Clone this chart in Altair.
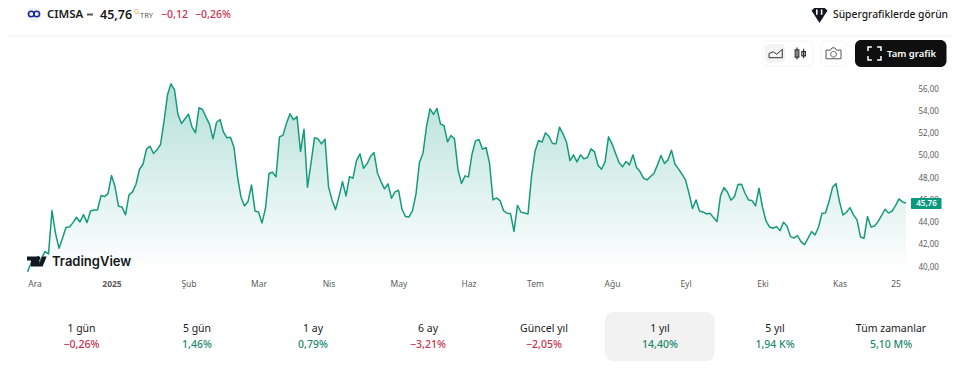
import altair as alt
import pandas as pd

prices = [39.58,40.33,40.63,40.18,40.78,41.38,41.17,45.07,43.03,41.68,42.58,43.57,43.6,43.99,44.47,44.05,44.71,43.99,45.04,45.13,45.13,46.42,46.33,46.6,48.22,47.23,45.46,45.4,44.68,46.48,46.75,47.44,48.79,49.24,50.59,50.86,50.2,50.53,51.01,53.08,55.48,56.47,55.93,53.68,52.9,53.32,53.74,52.57,52.06,54.31,54.16,53.47,52.84,51.52,52.99,53.26,52.12,51.61,51.67,50.74,48.13,46.27,45.49,45.88,47.38,45.04,44.95,43.96,45.28,48.4,48.52,48.1,51.7,51.85,52.93,53.77,53.23,53.53,50.38,52.39,47.17,49.33,51.61,51.52,
51.07,51.49,47.23,46.03,45.16,46.33,47.68,46.39,48.13,47.98,49.57,50.17,48.88,49.27,49.93,50.29,48.43,47.68,47.02,47.47,46.18,46.75,46.9,45.19,44.53,44.5,45.07,46.57,49.42,50.23,52.63,54.22,53.71,54.25,52.84,52.72,51.25,51.82,51.52,48.73,47.5,48.19,48.1,50.14,51.34,51.46,50.59,50.74,49.33,46.03,46.21,45.97,45.07,44.83,44.8,43.21,45.55,44.92,44.86,44.77,48.13,50.38,51.37,51.22,52.06,51.73,51.1,51.07,52.57,51.97,51.22,49.57,50.08,49.45,50.08,49.72,49.84,50.62,50.35,49.15,48.79,49.42,51.7,
51.07,50.23,49.39,49.0,49.48,49.18,50.08,48.94,48.58,47.98,47.83,48.13,48.43,49.18,50.02,49.3,49.63,50.5,49.24,48.82,48.34,47.83,46.63,45.25,46.03,45.04,44.95,44.77,44.83,44.44,44.08,46.39,47.14,46.72,46.0,46.33,47.41,47.44,46.63,46.03,45.97,45.49,47.08,45.37,44.14,43.6,43.48,43.63,43.27,44.02,43.69,42.73,42.61,42.82,42.28,42.01,42.58,43.18,42.88,43.57,44.83,44.86,45.88,47.14,47.5,45.88,44.68,44.92,45.34,44.68,44.23,42.7,42.58,44.53,43.6,43.69,44.08,44.62,45.19,44.86,45.01,45.52,46.12,45.85,45.76]

tick_index = [2,24,46,66,86,106,126,145,167,188,210,232,248]
tick_labels = ["Ara","2025","Şub","Mar","Nis","May","Haz","Tem","Ağu","Eyl","Eki","Kas","25"]
y_ticks = [40,42,44,46,48,50,52,54,56]
area_floor = 39.6

period_names = ["1 gün","5 gün","1 ay","6 ay","Güncel yıl","1 yıl","5 yıl","Tüm zamanlar"]
period_values = ["−0,26%","1,46%","0,79%","−3,21%","−2,05%","14,40%","1,94 K%","5,10 M%"]
period_centers = [81.5,197,313,428,544,660,775,891]

FONT = "Noto Sans"
GREEN = "#089981"
TXT_GREEN = "#1a8a6e"
RED = "#c9304f"
DARK = "#1a1a1a"
GREY = "#5c5c5c"
O = 8  # page margin

n = len(prices)
x1 = 906 - O
x0 = x1 - 3.5 * (n - 1)
df = pd.DataFrame({"i": list(range(n)), "p": prices, "b": [area_floor] * n})

xs = alt.Scale(domain=[0, n - 1], range=[x0, x1], nice=False, zero=False)
ys = alt.Scale(domain=[40, 56], range=[267 - O, 89 - O], nice=False, zero=False)
label_map = "{" + ",".join(f"'{i}':'{t}'" for i, t in zip(tick_index, tick_labels)) + "}"

xax = alt.Axis(values=tick_index, labelExpr=f"{label_map}[datum.value]", title=None, grid=False,
               domain=False, ticks=False, labelPadding=1, labelFont=FONT, labelFontSize=8.5,
               labelColor=GREY, labelOverlap=False, labelFlush=False,
               labelFontWeight={"condition": {"test": "datum.value == 24", "value": "bold"}, "value": "normal"})
yax = alt.Axis(values=y_ticks, orient="right", labelExpr="replace(format(datum.value,'.2f'),'.',',')",
               title=None, grid=False, domain=False, ticks=False, labelPadding=8, labelFont=FONT,
               labelFontSize=8, labelColor=GREY)

area = alt.Chart(df).mark_area(
    line=False,
    color=alt.Gradient(gradient="linear",
                       stops=[alt.GradientStop(color="rgba(8,153,129,0.30)", offset=0),
                              alt.GradientStop(color="rgba(8,153,129,0.0)", offset=1)],
                       x1=1, x2=1, y1=0, y2=1)
).encode(x=alt.X("i:Q", scale=xs, axis=xax), y=alt.Y("p:Q", scale=ys, axis=yax), y2=alt.Y2("b:Q"))
line = alt.Chart(df).mark_line(color="#159a7e", strokeWidth=1.5, strokeJoin="round").encode(
    x=alt.X("i:Q", scale=xs, axis=xax), y=alt.Y("p:Q", scale=ys, axis=yax))

BLANK = alt.Data(values=[{"a": 1}])


def text(s, x, y, size=11, color=DARK, weight="normal", align="center", font=FONT, **kw):
    return alt.Chart(alt.Data(values=[{"t": s}])).mark_text(
        align=align, baseline="middle", fontSize=size, color=color, fontWeight=weight, font=font, **kw
    ).encode(text="t:N", x=alt.value(x - O), y=alt.value(y - O))


def box(l, r, t, b, fill, radius=0, stroke=None):
    kw = {"stroke": stroke, "strokeWidth": 1} if stroke else {}
    return alt.Chart(BLANK).mark_rect(fill=fill, cornerRadius=radius, **kw).encode(
        x=alt.value(l - O), x2=alt.value(r - O), y=alt.value(t - O), y2=alt.value(b - O))


def icon(path, x, y, half, fill=None, stroke=None, sw=1.0):
    kw = {}
    if fill:
        kw.update(fill=fill, filled=True)
    else:
        kw.update(filled=False)
    if stroke:
        kw.update(stroke=stroke, strokeWidth=sw)
    else:
        kw.update(strokeWidth=0)
    return alt.Chart(BLANK).mark_point(shape=path, size=(2 * half) ** 2, opacity=1, **kw).encode(
        x=alt.value(x - O), y=alt.value(y - O))


TV = ("M.222 .5H-.611V-.111H-1V-.5H.222ZM.556 .5H.111L.528 -.5H.972Z"
      "M.333 -.333A.222 .222 0 1 1 -.111 -.333A.222 .222 0 1 1 .333 -.333Z")
layers = [
    area, line,
    # header rule
    box(O, 952, 35.5, 36.5, "#f0f0f0"),
    # price tag
    box(911, 941.5, 198, 209, GREEN, 1),
    text("45,76", 926.5, 203.5, 8, "#ffffff", 600),
    # TradingView logo
    text("TradingView", 52, 261.5, 13, "#131722", 600, "left", "Inter"),
    icon(TV, 37, 261.5, 10, fill="#131722"),
    # symbol badge
    icon("circle", 34, 14, 7, fill="#eef0f8"),
    icon("circle", 31.3, 14, 2.8, stroke="#1c2c9c", sw=1.6),
    icon("circle", 36.7, 14, 2.8, stroke="#1c2c9c", sw=1.6),
    text("CIMSA", 47, 14.5, 11.5, DARK, 600, "left"),
    box(87, 93, 13.5, 15.5, "#555555"),
    text("45,76", 100, 14.5, 12.5, DARK, 600, "left"),
    text("G", 134, 11.5, 7, "#e8a33a", "normal", "left"),
    text("TRY", 140, 16, 7.5, GREY, "normal", "left"),
    text("−0,12", 161, 14.5, 10.5, RED, 500, "left"),
    text("−0,26%", 195, 14.5, 10.5, RED, 500, "left"),
    # super charts link
    icon("M-1 -.55L-.5 -1H.5L1 -.55L0 1Z", 819.5, 15, 8, fill="#131722"),
    icon("M-.45 -.6V.3M.35 -.6V.3", 819.5, 13, 6, stroke="#ffffff", sw=1.6),
    text("Süpergrafiklerde görün", 833, 14.5, 10.3, DARK, 500, "left"),
    # toolbar
    box(763, 813, 41, 66, "#ffffff", 5, "#f5f5f5"),
    box(765, 785, 44, 63, "#f3f3f3", 4),
    icon("M-1 .6V0L-.4 -.25L.1 .1L.9 -.6V.6Z", 776, 53.5, 7, stroke="#333333", sw=1),
    icon("M-.5 -1V1M-.8 -.6H-.2V.6H-.8ZM.6 -.8V.8M.3 -.3H.9V.4H.3Z", 800, 53.5, 6, stroke="#333333", sw=1.2),
    box(821, 846, 41, 66, "#ffffff", 5, "#f5f5f5"),
    icon("M-1 -.45H-.4L-.2 -.75H.2L.4 -.45H1V.7H-1ZM.38 .1A.38 .38 0 1 1 -.38 .1A.38 .38 0 1 1 .38 .1Z",
         833.5, 53.5, 7.5, stroke="#555555", sw=1),
    box(855, 946.5, 40, 67, "#0f0f0f", 6),
    icon("M-1 -.4V-1H-.4M.4 -1H1V-.4M1 .4V1H.4M-.4 1H-1V.4", 874.5, 53.5, 6.5, stroke="#ffffff", sw=1.5),
    text("Tam grafik", 887, 53.5, 9.5, "#ffffff", 600, "left"),
    # period table
    box(605, 714.5, 312, 361, "#f2f2f2", 8),
]
for nm, val, c in zip(period_names, period_values, period_centers):
    layers.append(text(nm, c, 328.5, 10.5, DARK))
    layers.append(text(val, c, 344.5, 10.5, RED if val.startswith("−") else TXT_GREEN, 500))

chart = alt.layer(*layers).properties(
    width=902, height=270, background="#ffffff",
    padding={"left": 0, "top": 0, "right": 42, "bottom": 91},
    autosize=alt.AutoSizeParams(type="none"),
).configure_view(stroke=None)

chart.save("out.html", embed_options={"renderer": "svg", "actions": False})
